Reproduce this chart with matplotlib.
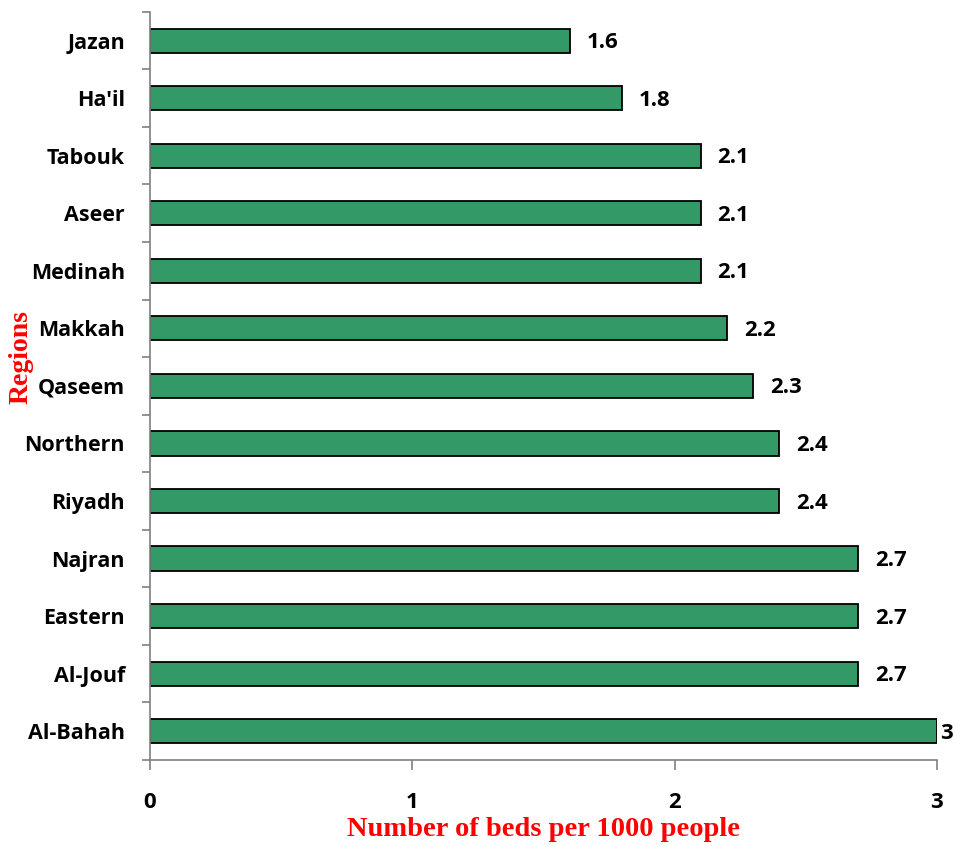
import numpy as np
import matplotlib.pyplot as plt

regions = ['Jazan', "Ha'il", 'Tabouk', 'Aseer', 'Medinah', 'Makkah', 'Qaseem',
           'Northern', 'Riyadh', 'Najran', 'Eastern', 'Al-Jouf', 'Al-Bahah']
beds = [1.6, 1.8, 2.1, 2.1, 2.1, 2.2, 2.3, 2.4, 2.4, 2.7, 2.7, 2.7, 3]

label_font = 'Open Sans'
title_font = 'Liberation Serif'

fig = plt.figure(figsize=(9.55, 8.46), dpi=100)
ax = fig.add_axes([0.157, 0.1017, 0.824, 0.8843])

pos = np.arange(len(regions))[::-1]
ax.barh(pos, beds, height=0.42, color='#339966', edgecolor='black', linewidth=1.3)

xmax = 3
for y, v in zip(pos, beds):
    # the label at the axis end sits tight against its bar
    dx = 2 if v >= xmax else 12
    ax.annotate(f'{v:g}', xy=(v, y), xytext=(dx, -1.5), textcoords='offset points',
                va='center', ha='left', fontsize=16, fontweight='bold',
                family=label_font)

ax.set_xlim(0, xmax)
ax.set_ylim(-0.5, len(regions) - 0.5)

ax.set_yticks(pos)
ax.set_yticklabels(regions, fontsize=15.5, fontweight='bold', family=label_font)
ax.tick_params(axis='y', which='major', length=0, pad=18)
ax.set_yticks(np.arange(-0.5, len(regions)), minor=True)
ax.tick_params(axis='y', which='minor', length=6, color='#808080', width=1.2)

ax.set_xticks([0, 1, 2, 3])
ax.set_xticklabels(['0', '1', '2', '3'], fontsize=16, fontweight='bold', family=label_font)
ax.tick_params(axis='x', length=7, color='#808080', width=1.2, pad=16)

for side in ['top', 'right']:
    ax.spines[side].set_visible(False)
for side in ['left', 'bottom']:
    ax.spines[side].set_color('#808080')
    ax.spines[side].set_linewidth(1.2)

ax.set_xlabel('Number of beds per 1000 people', fontsize=20.5, fontweight='bold',
              color='red', family=title_font)
ax.xaxis.set_label_coords(0.5, -0.076)
ax.set_ylabel('Regions', fontsize=20, fontweight='bold', color='red', family=title_font)
ax.yaxis.set_label_coords(-0.148, 0.539)

fig.savefig('out.png', dpi=100)
